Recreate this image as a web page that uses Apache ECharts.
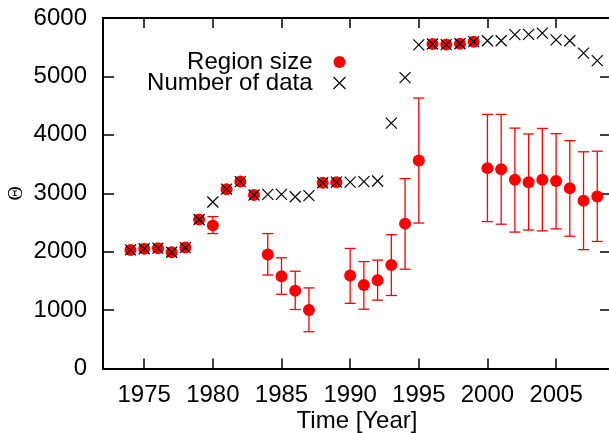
<!DOCTYPE html>
<html>
<head>
<meta charset="utf-8">
<script src="https://cdn.jsdelivr.net/npm/echarts@6/dist/echarts.min.js"></script>
<style>
  html, body { margin: 0; padding: 0; background: #ffffff; }
  #chart { width: 609px; height: 433px; }
</style>
</head>
<body>
<div id="chart"></div>
<script>
// Observation years
const years = [1974, 1975, 1976, 1977, 1978, 1979, 1980, 1981, 1982, 1983,
               1984, 1985, 1986, 1987, 1988, 1989, 1990, 1991, 1992, 1993,
               1994, 1995, 1996, 1997, 1998, 1999, 2000, 2001, 2002, 2003,
               2004, 2005, 2006, 2007, 2008];

// Estimated region size per year
const regionSize = [2030, 2050, 2060, 1990, 2070, 2550, 2450, 3070, 3200, 2970,
                    1950, 1580, 1330, 1000, 3180, 3190, 1590, 1430, 1510, 1770,
                    2480, 3560, 5555, 5545, 5560, 5595, 3430, 3410, 3230, 3190,
                    3230, 3210, 3085, 2870, 2945];

// Lower / upper bounds of the region size (null where no bar is drawn)
const regionLow = [null, null, null, null, null, null, 2310, null, null, null,
                   1600, 1270, 1010, 630, null, null, 1115, 1015, 1170, 1250,
                   1700, 2490, null, null, null, null, 2515, 2470, 2335, 2370,
                   2355, 2390, 2265, 2035, 2175];
const regionHigh = [null, null, null, null, null, null, 2600, null, null, null,
                    2310, 1895, 1665, 1380, null, null, 2055, 1830, 1855, 2290,
                    3250, 4630, null, null, null, null, 4350, 4350, 4115, 4015,
                    4110, 4020, 3900, 3710, 3720];

// Number of data points per year
const numberOfData = [2030, 2050, 2060, 1990, 2070, 2550, 2850, 3070, 3200, 2970,
                      2980, 2980, 2940, 2960, 3180, 3190, 3190, 3200, 3210, 4200,
                      4980, 5540, 5555, 5545, 5560, 5595, 5610, 5610, 5715, 5720,
                      5740, 5625, 5610, 5400, 5270];

// Axis ticks
const xTicks = [1975, 1980, 1985, 1990, 1995, 2000, 2005];
const xMin = 1972, xMax = 2009;
const yMin = 0, yMax = 6000, yStep = 1000;

const FONT = 'Liberation Sans, Arial, Helvetica, sans-serif';
const FONT_SIZE = 24;
const RED = '#ff0000';
const CROSS = 'path://M0,0L10,10M0,10L10,0';

const errorData = [];
years.forEach((y, i) => {
  if (regionLow[i] != null) errorData.push([y, regionLow[i], regionHigh[i]]);
});

const axisLineStyle = { color: '#000', width: 2 };
const tickStyle = { color: '#000', width: 1.5 };

const chart = echarts.init(document.getElementById('chart'), null, { renderer: 'canvas' });

chart.setOption({
  animation: false,
  backgroundColor: '#ffffff',
  grid: { left: 103, right: -2, top: 18, bottom: 64.5, containLabel: false, outerBoundsMode: 'none' },
  legend: {
    orient: 'vertical',
    align: 'right',
    right: 256,
    top: 45,
    itemWidth: 44,
    itemHeight: 12,
    itemGap: -3,
    selectedMode: false,
    textStyle: { fontFamily: FONT, fontSize: FONT_SIZE, color: '#000', lineHeight: 22 },
    data: [
      { name: 'Region size', icon: 'circle', itemStyle: { color: RED } },
      { name: 'Number of data', icon: CROSS,
        itemStyle: { color: 'none', borderColor: '#000', borderWidth: 1.2 } }
    ]
  },
  xAxis: [
    {
      type: 'value', min: xMin, max: xMax, position: 'bottom',
      name: 'Time [Year]', nameLocation: 'middle', nameGap: 41, nameMoveOverlap: false,
      nameTextStyle: { fontFamily: FONT, fontSize: FONT_SIZE, color: '#000' },
      axisLine: { show: true, onZero: false, lineStyle: axisLineStyle },
      axisTick: { show: true, inside: true, length: 10, customValues: xTicks, lineStyle: tickStyle },
      axisLabel: { show: true, customValues: xTicks, margin: 15,
                   fontFamily: FONT, fontSize: FONT_SIZE, color: '#000',
                   formatter: v => String(v) },
      splitLine: { show: false }
    },
    {
      type: 'value', min: xMin, max: xMax, position: 'top',
      axisLine: { show: true, onZero: false, lineStyle: axisLineStyle },
      axisTick: { show: true, inside: true, length: 10, customValues: xTicks, lineStyle: tickStyle },
      axisLabel: { show: false },
      splitLine: { show: false }
    }
  ],
  yAxis: [
    {
      type: 'value', min: yMin, max: yMax, interval: yStep, position: 'left',
      name: 'Θ', nameLocation: 'middle', nameGap: 76, nameRotate: 90, nameMoveOverlap: false,
      nameTextStyle: { fontFamily: 'Liberation Serif, Times New Roman, serif', fontSize: 20, color: '#000' },
      axisLine: { show: true, onZero: false, lineStyle: axisLineStyle },
      axisTick: { show: true, inside: true, length: 11, lineStyle: tickStyle },
      axisLabel: { margin: 16, fontFamily: FONT, fontSize: FONT_SIZE, color: '#000',
                   formatter: v => String(v) },
      splitLine: { show: false }
    },
    {
      type: 'value', min: yMin, max: yMax, interval: yStep, position: 'right',
      axisLine: { show: true, onZero: false, lineStyle: axisLineStyle },
      axisTick: { show: true, inside: true, length: 11, lineStyle: tickStyle },
      axisLabel: { show: false },
      splitLine: { show: false }
    }
  ],
  series: [
    {
      name: 'Region size error',
      type: 'custom',
      xAxisIndex: 0, yAxisIndex: 0,
      data: errorData,
      encode: { x: 0, y: [1, 2] },
      silent: true,
      z: 1,
      renderItem(params, api) {
        const x = api.value(0);
        const hi = api.coord([x, api.value(2)]);
        const lo = api.coord([x, api.value(1)]);
        const half = 5.5;
        const style = { stroke: RED, lineWidth: 1.3 };
        return {
          type: 'group',
          children: [
            { type: 'line', shape: { x1: hi[0], y1: hi[1], x2: lo[0], y2: lo[1] }, style },
            { type: 'line', shape: { x1: hi[0] - half, y1: hi[1], x2: hi[0] + half, y2: hi[1] }, style },
            { type: 'line', shape: { x1: lo[0] - half, y1: lo[1], x2: lo[0] + half, y2: lo[1] }, style }
          ]
        };
      }
    },
    {
      name: 'Region size',
      type: 'scatter',
      xAxisIndex: 0, yAxisIndex: 0,
      symbol: 'circle',
      symbolSize: 12,
      itemStyle: { color: RED, opacity: 1 },
      z: 2,
      data: years.map((y, i) => [y, regionSize[i]])
    },
    {
      name: 'Number of data',
      type: 'scatter',
      xAxisIndex: 0, yAxisIndex: 0,
      symbol: CROSS,
      symbolSize: 11,
      itemStyle: { color: 'none', borderColor: '#000', borderWidth: 1.2, opacity: 1 },
      z: 3,
      data: years.map((y, i) => [y, numberOfData[i]])
    }
  ]
});
</script>
</body>
</html>
